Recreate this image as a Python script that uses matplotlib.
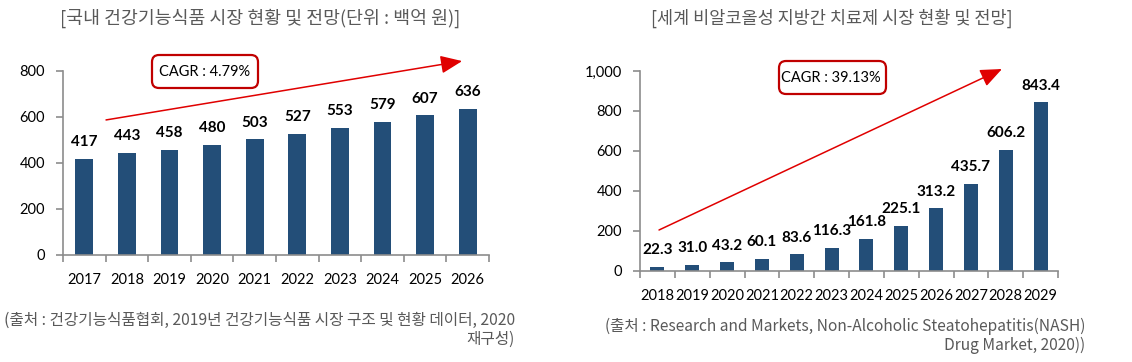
import matplotlib
matplotlib.use("Agg")
import matplotlib.pyplot as plt
from matplotlib.patches import FancyBboxPatch
from matplotlib.transforms import IdentityTransform
import numpy as np

plt.rcParams['font.family'] = ['Noto Sans CJK KR', 'DejaVu Sans']

# ---- data ----
kr_years = ['2017', '2018', '2019', '2020', '2021', '2022', '2023', '2024', '2025', '2026']
kr_values = [417, 443, 458, 480, 503, 527, 553, 579, 607, 636]
kr_labels = ['417', '443', '458', '480', '503', '527', '553', '579', '607', '636']
kr_yticks = [0, 200, 400, 600, 800]
kr_ytick_labels = ['0', '200', '400', '600', '800']
kr_title = '[국내 건강기능식품 시장 현황 및 전망(단위 : 백억 원)]'
kr_source = '(출처 : 건강기능식품협회, 2019년 건강기능식품 시장 구조 및 현황 데이터, 2020\n재구성)'
kr_cagr = 'CAGR : 4.79%'

gl_years = ['2018', '2019', '2020', '2021', '2022', '2023', '2024', '2025', '2026', '2027', '2028', '2029']
gl_values = [22.3, 31.0, 43.2, 60.1, 83.6, 116.3, 161.8, 225.1, 313.2, 435.7, 606.2, 843.4]
gl_labels = ['22.3', '31.0', '43.2', '60.1', '83.6', '116.3', '161.8', '225.1', '313.2', '435.7', '606.2', '843.4']
gl_yticks = [0, 200, 400, 600, 800, 1000]
gl_ytick_labels = ['0', '200', '400', '600', '800', '1,000']
gl_title = '[세계 비알코올성 지방간 치료제 시장 현황 및 전망]'
gl_source = '(출처 : Research and Markets, Non-Alcoholic Steatohepatitis(NASH)\nDrug Market, 2020))'
gl_cagr = 'CAGR : 39.13%'

BAR = '#234E78'
RED = '#C00000'
AX = '#8C8C8C'
GRAY_TXT = '#595959'
NUM_FONT = ['Lato', 'Noto Sans CJK KR']

W, H = 1132, 362
fig = plt.figure(figsize=(W / 100, H / 100), dpi=100)


def px_axes(x0, x1, ytop, ybot):
    return fig.add_axes([x0 / W, 1 - ybot / H, (x1 - x0) / W, (ybot - ytop) / H])


def style_axes(ax, n, ymax, yticks, yticklabels, cats, tick_pad_x):
    ax.set_xlim(-0.5, n - 0.5)
    ax.set_ylim(0, ymax)
    for s in ['top', 'right']:
        ax.spines[s].set_visible(False)
    for s in ['left', 'bottom']:
        ax.spines[s].set_color(AX)
        ax.spines[s].set_linewidth(1.2)
    ax.set_yticks(yticks)
    ax.set_yticklabels(yticklabels, family=NUM_FONT, fontsize=10.5)
    ax.tick_params(axis='y', direction='out', length=5, width=1.2, color=AX, pad=8)
    ax.set_xticks(range(n))
    ax.set_xticklabels(cats, family=NUM_FONT, fontsize=10.5)
    ax.tick_params(axis='x', which='major', length=0, pad=tick_pad_x)
    ax.set_xticks(np.arange(-0.5, n, 1.0), minor=True)
    ax.tick_params(axis='x', which='minor', direction='out', length=5, width=1.2, color=AX)


ARROW = dict(arrowstyle='-|>,head_length=1.2,head_width=0.5', color='#E00000',
             lw=1.1, shrinkA=0, shrinkB=0, mutation_scale=11)

# ---- left chart ----
ax1 = px_axes(63, 489, 71, 255)
n1 = len(kr_years)
ax1.bar(range(n1), kr_values, width=0.42, color=BAR)
style_axes(ax1, n1, 800, kr_yticks, kr_ytick_labels, kr_years, 13)
for i, (v, lab) in enumerate(zip(kr_values, kr_labels)):
    ax1.annotate(lab, (i, v), xytext=(0, 7), textcoords='offset points',
                 ha='center', va='bottom', fontsize=11, fontweight='bold', family=NUM_FONT)
ax1.annotate('', xy=(0.937, 1.054), xytext=(0.101, 0.734), xycoords='axes fraction',
             textcoords='axes fraction', annotation_clip=False, arrowprops=ARROW)

# ---- right chart ----
ax2 = px_axes(640, 1058, 71, 271)
n2 = len(gl_years)
ax2.bar(range(n2), gl_values, width=0.4, color=BAR)
style_axes(ax2, n2, 1000, gl_yticks, gl_ytick_labels, gl_years, 13)
for i, (v, lab) in enumerate(zip(gl_values, gl_labels)):
    ax2.annotate(lab, (i, v), xytext=(0, 7), textcoords='offset points',
                 ha='center', va='bottom', fontsize=11, fontweight='bold', family=NUM_FONT)
ax2.annotate('', xy=(0.866, 1.01), xytext=(0.0455, 0.205), xycoords='axes fraction',
             textcoords='axes fraction', annotation_clip=False, arrowprops=ARROW)

# ---- CAGR boxes (pixel coordinates) ----
def cagr_box(x0, x1, ytop, ybot, text, tx, ha):
    box = FancyBboxPatch((x0, H - ybot), x1 - x0, ybot - ytop,
                         boxstyle='round,pad=0,rounding_size=7',
                         transform=IdentityTransform(), facecolor='white',
                         edgecolor=RED, linewidth=1.6, zorder=5)
    fig.add_artist(box)
    fig.text(tx / W, 1 - (ytop + ybot) / 2 / H, text, ha=ha, va='center',
             fontsize=10.5, family=NUM_FONT, zorder=6)


cagr_box(152, 258, 55, 88, kr_cagr, 205, 'center')
cagr_box(779, 886, 61, 94, gl_cagr, 781, 'left')

# ---- titles ----
fig.text(260 / W, 1 - 18 / H, kr_title, ha='center', va='center', fontsize=13.2, color=GRAY_TXT)
fig.text(832 / W, 1 - 18 / H, gl_title, ha='center', va='center', fontsize=12.6, color=GRAY_TXT)

# ---- sources ----
fig.text(515 / W, 1 - 330 / H, kr_source, ha='right', va='center', multialignment='right',
         fontsize=11.3, color=GRAY_TXT, linespacing=1.15)
fig.text(1085 / W, 1 - 336 / H, gl_source, ha='right', va='center', multialignment='right',
         fontsize=11.2, color=GRAY_TXT, linespacing=1.1)

fig.savefig('out.png', dpi=100)
